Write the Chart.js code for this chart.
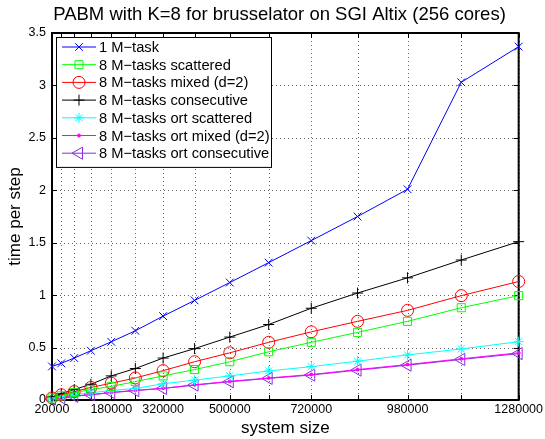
<!DOCTYPE html>
<html>
<head>
<meta charset="utf-8">
<script src="https://cdn.jsdelivr.net/npm/chart.js@4.4.1/dist/chart.umd.min.js"></script>
<style>
  html, body { margin: 0; padding: 0; background: #fff; }
  #wrap { width: 545px; height: 439px; }
</style>
</head>
<body>
<div id="wrap"><canvas id="brusselator-chart"></canvas></div>
<script>
// system sizes (2*N^2 for N = 100..800)
const systemSizes = [20000, 45000, 80000, 125000, 180000, 245000, 320000, 405000,
    500000, 605000, 720000, 845000, 980000, 1125000, 1280000];
const labeledSizes = [20000, 180000, 320000, 500000, 720000, 980000, 1280000];
const yTicks = [0, 0.5, 1, 1.5, 2, 2.5, 3, 3.5];

const oneMTask      = [0.32, 0.35, 0.40, 0.47, 0.555, 0.66, 0.80, 0.95, 1.12, 1.31, 1.52, 1.75, 2.01, 3.03, 3.37];
const scattered     = [0.02, 0.04, 0.07, 0.10, 0.13, 0.175, 0.23, 0.29, 0.365, 0.46, 0.55, 0.645, 0.75, 0.88, 0.995];
const mixed         = [0.02, 0.05, 0.08, 0.12, 0.16, 0.21, 0.28, 0.365, 0.45, 0.55, 0.65, 0.75, 0.855, 0.995, 1.13];
const consecutive   = [0.03, 0.06, 0.10, 0.15, 0.23, 0.30, 0.40, 0.49, 0.60, 0.72, 0.875, 1.02, 1.165, 1.335, 1.51];
const ortScattered  = [0.01, 0.03, 0.05, 0.07, 0.09, 0.11, 0.155, 0.19, 0.23, 0.277, 0.318, 0.37, 0.43, 0.487, 0.556];
const ortMixed      = [0.01, 0.02, 0.037, 0.052, 0.072, 0.092, 0.112, 0.145, 0.178, 0.21, 0.243, 0.29, 0.338, 0.393, 0.45];
const ortConsec     = [0.01, 0.02, 0.035, 0.05, 0.07, 0.09, 0.11, 0.142, 0.174, 0.206, 0.238, 0.285, 0.332, 0.387, 0.442];

const chartTitle = 'PABM with K=8 for brusselator on SGI Altix (256 cores)';
const FONT = '"Liberation Sans", Arial, Helvetica, sans-serif';

function series(label, values, color, style, radius, extra) {
    return Object.assign({
        label: label,
        data: values.map((v, i) => ({ x: systemSizes[i], y: v })),
        borderColor: color,
        backgroundColor: 'transparent',
        borderWidth: 1,
        pointStyle: style,
        pointRadius: radius,
        pointBorderColor: color,
        pointBackgroundColor: 'transparent',
        pointBorderWidth: 1,
        pointHoverRadius: radius,
        tension: 0,
        fill: false,
        clip: false
    }, extra || {});
}

// dotted grid, frame and inward ticks, MATLAB style
const framePlugin = {
    id: 'frame',
    beforeDatasetsDraw(chart) {
        const { ctx, chartArea: a, scales } = chart;
        ctx.save();
        ctx.strokeStyle = 'rgba(0,0,0,0.6)';
        ctx.lineWidth = 1;
        ctx.setLineDash([1, 3]);
        ctx.beginPath();
        systemSizes.forEach(v => {
            const x = Math.round(scales.x.getPixelForValue(v)) + 0.5;
            ctx.moveTo(x, a.top); ctx.lineTo(x, a.bottom);
        });
        yTicks.forEach(v => {
            const y = Math.round(scales.y.getPixelForValue(v)) + 0.5;
            ctx.moveTo(a.left, y); ctx.lineTo(a.right, y);
        });
        ctx.stroke();
        ctx.setLineDash([]);
        ctx.strokeStyle = '#000';
        ctx.beginPath();
        systemSizes.forEach(v => {
            const x = Math.round(scales.x.getPixelForValue(v)) + 0.5;
            ctx.moveTo(x, a.bottom); ctx.lineTo(x, a.bottom - 5);
            ctx.moveTo(x, a.top); ctx.lineTo(x, a.top + 5);
        });
        yTicks.forEach(v => {
            const y = Math.round(scales.y.getPixelForValue(v)) + 0.5;
            ctx.moveTo(a.left, y); ctx.lineTo(a.left + 5, y);
            ctx.moveTo(a.right, y); ctx.lineTo(a.right - 5, y);
        });
        ctx.stroke();
        ctx.lineWidth = 2;
        ctx.strokeRect(a.left, a.top, a.right - a.left, a.bottom - a.top);
        ctx.restore();
    }
};

// title + legend box inside the plot, upper left
const boxLegendPlugin = {
    id: 'boxLegend',
    afterDraw(chart) {
        const { ctx, chartArea: a } = chart;
        ctx.save();
        ctx.fillStyle = '#000';
        ctx.font = '18.5px ' + FONT;
        ctx.textAlign = 'center';
        ctx.textBaseline = 'middle';
        ctx.fillText(chartTitle, 279.5, 15);

        const x0 = a.left + 4, y0 = a.top + 4, w = 215, rowH = 17.7;
        const h = rowH * chart.data.datasets.length + 6;
        ctx.fillStyle = '#fff';
        ctx.fillRect(x0, y0, w, h);
        ctx.strokeStyle = '#000';
        ctx.lineWidth = 1;
        ctx.strokeRect(x0 + 0.5, y0 + 0.5, w, h);
        ctx.font = '14.7px ' + FONT;
        ctx.textAlign = 'left';
        chart.data.datasets.forEach((ds, i) => {
            const cy = y0 + 10 + i * rowH;
            ctx.strokeStyle = ds.borderColor;
            ctx.lineWidth = 1;
            ctx.beginPath();
            ctx.moveTo(x0 + 6, cy); ctx.lineTo(x0 + 40, cy);
            ctx.stroke();
            ctx.fillStyle = ds.pointBackgroundColor;
            Chart.helpers.drawPoint(ctx, {
                pointStyle: ds.pointStyle,
                radius: ds.pointRadius,
                rotation: ds.pointRotation || 0,
                borderWidth: 1
            }, x0 + 23, cy);
            ctx.fillStyle = '#000';
            ctx.fillText(ds.label, x0 + 43, cy + 1);
        });
        ctx.restore();
    }
};

function drawChart() {
    const ctx = document.getElementById('brusselator-chart');
    new Chart(ctx, {
        type: 'line',
        data: {
            datasets: [
                series('1 M\u2212task', oneMTask, '#0000ff', 'crossRot', 5.5),
                series('8 M\u2212tasks scattered', scattered, '#00ff00', 'rect', 5.7),
                series('8 M\u2212tasks mixed (d=2)', mixed, '#ff0000', 'circle', 6),
                series('8 M\u2212tasks consecutive', consecutive, '#000000', 'cross', 5.5),
                series('8 M\u2212tasks ort scattered', ortScattered, '#00ffff', 'star', 5),
                series('8 M\u2212tasks ort mixed (d=2)', ortMixed, '#ff00ff', 'circle', 1.5,
                    { pointBackgroundColor: '#ff00ff' }),
                series('8 M\u2212tasks ort consecutive', ortConsec, '#8a2be2', 'triangle', 7,
                    { pointRotation: -90 })
            ]
        },
        options: {
            responsive: true,
            maintainAspectRatio: false,
            animation: false,
            layout: { padding: { left: 0, right: 26, top: 33, bottom: 0 } },
            scales: {
                x: {
                    type: 'linear',
                    min: 20000,
                    max: 1280000,
                    afterBuildTicks: scale => { scale.ticks = systemSizes.map(v => ({ value: v })); },
                    afterFit: scale => { scale.height = 39; },
                    ticks: {
                        autoSkip: false,
                        maxRotation: 0,
                        padding: 2,
                        color: '#000',
                        font: { family: FONT, size: 12.5 },
                        callback: v => labeledSizes.includes(v) ? String(v) : ''
                    },
                    grid: { display: false, drawTicks: false },
                    border: { display: false },
                    title: {
                        display: true,
                        text: 'system size',
                        color: '#000',
                        font: { family: FONT, size: 17 },
                        padding: { top: 0, bottom: 0 }
                    }
                },
                y: {
                    min: 0,
                    max: 3.5,
                    afterBuildTicks: scale => { scale.ticks = yTicks.map(v => ({ value: v })); },
                    afterFit: scale => { scale.width = 52; },
                    ticks: {
                        padding: 6,
                        color: '#000',
                        font: { family: FONT, size: 12.5 },
                        callback: v => String(v)
                    },
                    grid: { display: false, drawTicks: false },
                    border: { display: false },
                    title: {
                        display: true,
                        text: 'time per step',
                        color: '#000',
                        font: { family: FONT, size: 17 },
                        padding: { top: 5, bottom: 0 }
                    }
                }
            },
            plugins: {
                legend: { display: false },
                tooltip: { enabled: false },
                title: { display: false }
            }
        },
        plugins: [framePlugin, boxLegendPlugin]
    });
}

document.addEventListener('DOMContentLoaded', drawChart);
</script>
</body>
</html>
